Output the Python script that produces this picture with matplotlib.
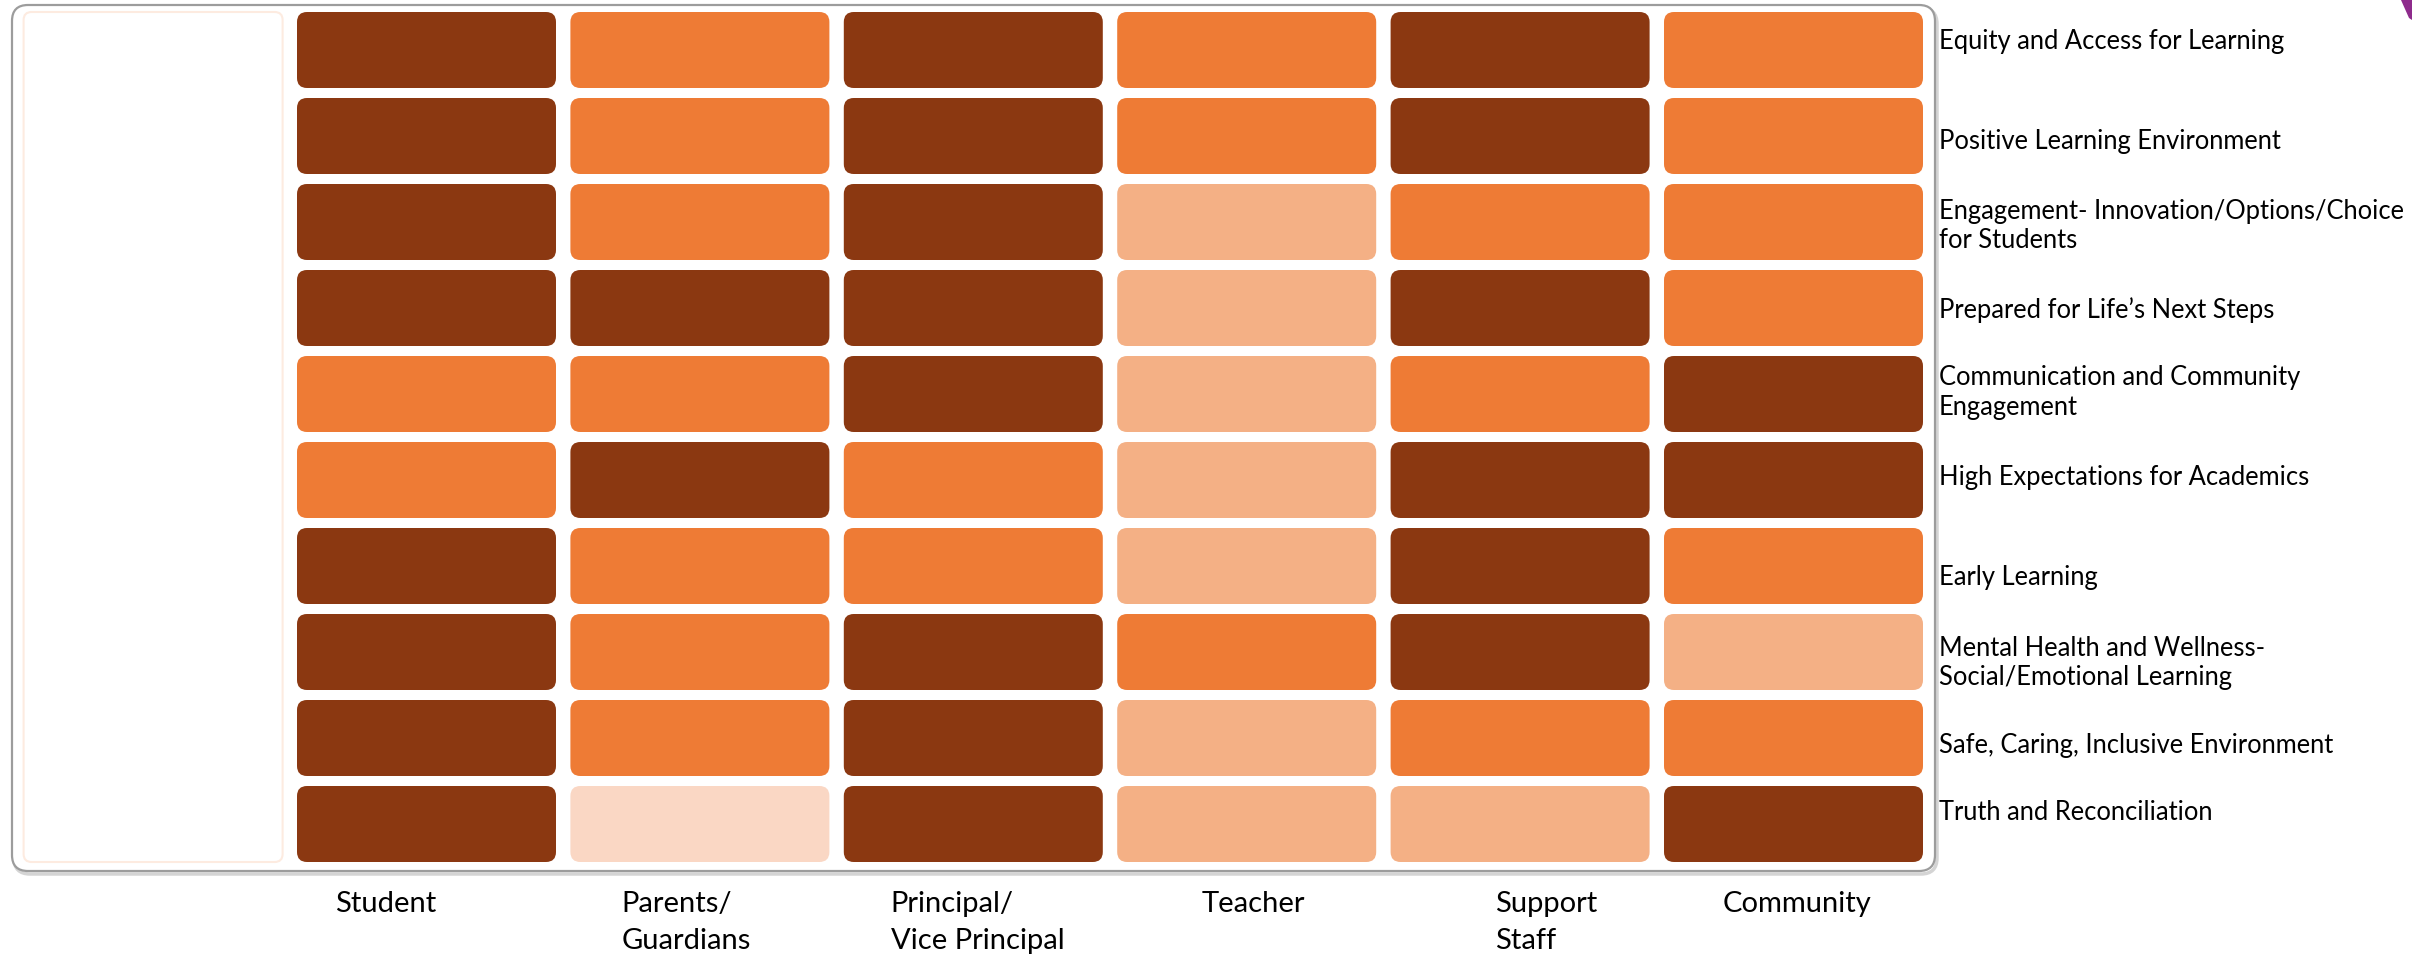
import matplotlib.pyplot as plt
from matplotlib.patches import FancyBboxPatch, Polygon

# Priority areas (rows) and stakeholder groups (columns)
priorities = [
    'Equity and Access for Learning',
    'Positive Learning Environment',
    'Engagement- Innovation/Options/Choice\nfor Students',
    'Prepared for Life\u2019s Next Steps',
    'Communication and Community\nEngagement',
    'High Expectations for Academics',
    'Early Learning',
    'Mental Health and Wellness-\nSocial/Emotional Learning',
    'Safe, Caring, Inclusive Environment',
    'Truth and Reconciliation',
]
groups = ['Student', 'Parents/\nGuardians', 'Principal/\nVice Principal',
          'Teacher', 'Support\nStaff', 'Community']

# Rating level per priority (3 = highest, 0 = lowest)
student = [3, 3, 3, 3, 2, 2, 3, 3, 3, 3]
parents = [2, 2, 2, 3, 2, 3, 2, 2, 2, 0]
principal = [3, 3, 3, 3, 3, 2, 2, 3, 3, 3]
teacher = [2, 2, 1, 1, 1, 1, 1, 2, 1, 1]
support = [3, 3, 2, 3, 2, 3, 3, 3, 2, 1]
community = [2, 2, 2, 2, 3, 3, 2, 1, 2, 3]
levels = [student, parents, principal, teacher, support, community]

level_colors = {3: '#8B3811', 2: '#EE7B35', 1: '#F4B085', 0: '#FAD7C4'}

# layout (pixels)
W, H = 2412, 957
x0, col_pitch, cell_w = 297, 273.4, 259
y0, row_pitch, cell_h = 12, 86, 76
label_dy = [-9, 6, 4, 2, -1, -2, 12, 11, 8, -11]
group_dx = [38, 51, 47, 84, 104, 59]

font = ['Lato', 'DejaVu Sans']

fig = plt.figure(figsize=(W / 100, H / 100), dpi=100)
ax = fig.add_axes([0, 0, 1, 1])
ax.set_xlim(0, W)
ax.set_ylim(H, 0)
ax.axis('off')

# outer frame with a soft shadow
ax.add_patch(FancyBboxPatch((14, 8), 1923, 866, boxstyle='round,pad=0,rounding_size=16',
                            fc='none', ec='#d4d4d4', lw=2.5, zorder=1))
ax.add_patch(FancyBboxPatch((12, 5), 1923, 866, boxstyle='round,pad=0,rounding_size=16',
                            fc='white', ec='#9c9c9c', lw=1.6, zorder=2))

# empty first column
ax.add_patch(FancyBboxPatch((x0 - col_pitch, y0), cell_w, 9 * row_pitch + cell_h,
                            boxstyle='round,pad=0,rounding_size=8',
                            fc='white', ec='#FDEBE0', lw=1.5, zorder=3))

for j, col in enumerate(levels):
    for i, lv in enumerate(col):
        ax.add_patch(FancyBboxPatch((x0 + j * col_pitch, y0 + i * row_pitch), cell_w, cell_h,
                                    boxstyle='round,pad=0,rounding_size=10',
                                    fc=level_colors[lv], ec='none', zorder=4))

for i, name in enumerate(priorities):
    ax.text(1939, y0 + i * row_pitch + cell_h / 2 + label_dy[i], name,
            ha='left', va='center', fontsize=18.4, family=font,
            linespacing=1.25, color='black')

for j, name in enumerate(groups):
    ax.text(x0 + j * col_pitch + group_dx[j], 891, name,
            ha='left', va='top', fontsize=21, family=font,
            linespacing=1.53, color='black')

# fragment of logo at the top-right corner
ax.add_patch(Polygon([(2401, 0), (2412, 0), (2412, 20), (2409, 18)],
                     closed=True, fc='#8E2B8C', ec='none'))

fig.savefig('out.png', dpi=100)
